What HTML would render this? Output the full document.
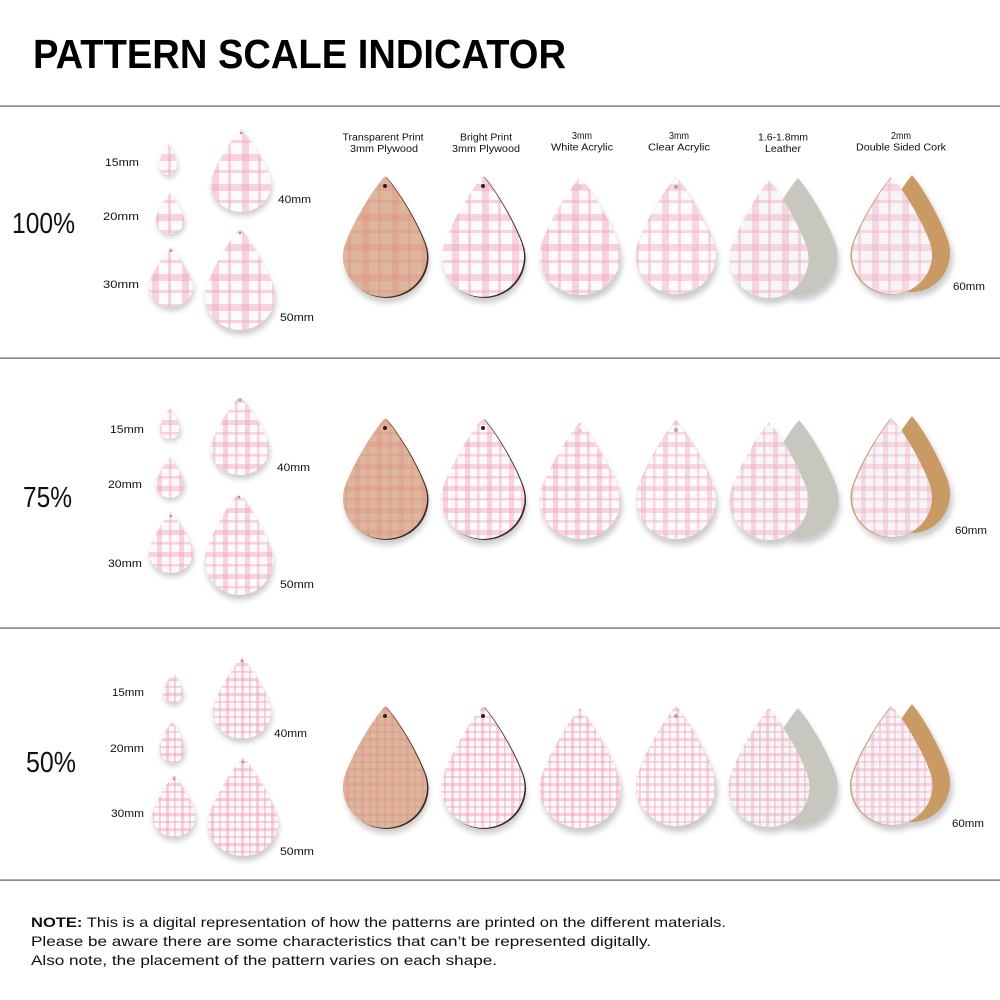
<!DOCTYPE html>
<html><head><meta charset="utf-8"><style>
html,body{margin:0;padding:0;background:#fff;}
svg{display:block;}
text{font-family:"Liberation Sans",sans-serif;fill:#111;}
</style></head><body>
<svg width="1000" height="1000" viewBox="0 0 1000 1000" xmlns="http://www.w3.org/2000/svg" xmlns:xlink="http://www.w3.org/1999/xlink">
<defs>
<path id="d" d="M0,0C0.3,0.35 0.735,1.094 0.94,1.658A1,1 0 1 1 -0.94,1.658C-0.735,1.094 -0.3,0.35 0,0Z"/>
<filter id="bl" x="-30%" y="-30%" width="160%" height="160%"><feGaussianBlur stdDeviation="3"/></filter>
<pattern id="p1" width="30" height="30" patternUnits="userSpaceOnUse" x="2" y="4">
<rect width="30" height="30" fill="#fdfafb"/>
<rect x="0" width="7" height="30" fill="#f2a6bd" opacity=".48"/>
<rect x="16" width="3" height="30" fill="#f2a6bd" opacity=".48"/>
<rect y="0" width="30" height="7" fill="#f2a6bd" opacity=".48"/>
<rect y="16" width="30" height="3" fill="#f2a6bd" opacity=".48"/>
</pattern>
<pattern id="p2" width="22" height="22" patternUnits="userSpaceOnUse" x="3" y="2">
<rect width="22" height="22" fill="#fdfafb"/>
<rect x="0" width="5" height="22" fill="#f2a6bd" opacity=".48"/>
<rect x="12" width="2.5" height="22" fill="#f2a6bd" opacity=".48"/>
<rect y="0" width="22" height="5" fill="#f2a6bd" opacity=".48"/>
<rect y="12" width="22" height="2.5" fill="#f2a6bd" opacity=".48"/>
</pattern>
<pattern id="p3" width="15" height="15" patternUnits="userSpaceOnUse" x="1" y="3">
<rect width="15" height="15" fill="#fdfafb"/>
<rect x="0" width="3.2" height="15" fill="#f2a6bd" opacity=".52"/>
<rect x="8" width="1.8" height="15" fill="#f2a6bd" opacity=".52"/>
<rect y="0" width="15" height="3.2" fill="#f2a6bd" opacity=".52"/>
<rect y="8" width="15" height="1.8" fill="#f2a6bd" opacity=".52"/>
</pattern>
<pattern id="w1" width="30" height="30" patternUnits="userSpaceOnUse" x="2" y="4">
<rect width="30" height="30" fill="#dcb79c"/>
<rect x="0" width="7" height="30" fill="#e0928a" opacity=".4"/>
<rect x="16" width="3" height="30" fill="#e0928a" opacity=".4"/>
<rect y="0" width="30" height="7" fill="#e0928a" opacity=".4"/>
<rect y="16" width="30" height="3" fill="#e0928a" opacity=".4"/>
</pattern>
<pattern id="w2" width="22" height="22" patternUnits="userSpaceOnUse" x="3" y="2">
<rect width="22" height="22" fill="#dcb79c"/>
<rect x="0" width="5" height="22" fill="#e0928a" opacity=".4"/>
<rect x="12" width="2.5" height="22" fill="#e0928a" opacity=".4"/>
<rect y="0" width="22" height="5" fill="#e0928a" opacity=".4"/>
<rect y="12" width="22" height="2.5" fill="#e0928a" opacity=".4"/>
</pattern>
<pattern id="w3" width="15" height="15" patternUnits="userSpaceOnUse" x="1" y="3">
<rect width="15" height="15" fill="#dcb79c"/>
<rect x="0" width="3.2" height="15" fill="#e0928a" opacity=".42"/>
<rect x="8" width="1.8" height="15" fill="#e0928a" opacity=".42"/>
<rect y="0" width="15" height="3.2" fill="#e0928a" opacity=".42"/>
<rect y="8" width="15" height="1.8" fill="#e0928a" opacity=".42"/>
</pattern>

<clipPath id="a1"><use xlink:href="#d" transform="translate(168,143) scale(9,10.667)"/></clipPath>
<clipPath id="a2"><use xlink:href="#d" transform="translate(170,193) scale(14,13.667)"/></clipPath>
<clipPath id="a3"><use xlink:href="#d" transform="translate(171,247) scale(22,20)"/></clipPath>
<clipPath id="a4"><use xlink:href="#d" transform="translate(241,129) scale(30,27.667)"/></clipPath>
<clipPath id="a5"><use xlink:href="#d" transform="translate(240,228) scale(35,34)"/></clipPath>
<clipPath id="a6"><use xlink:href="#d" transform="translate(385,176) scale(42,40.333)"/></clipPath>
<clipPath id="a7"><use xlink:href="#d" transform="translate(483,176) scale(41,40.333)"/></clipPath>
<clipPath id="a8"><use xlink:href="#d" transform="translate(580,177) scale(40.5,39.333)"/></clipPath>
<clipPath id="a9"><use xlink:href="#d" transform="translate(676,177) scale(40,39)"/></clipPath>
<clipPath id="a10"><use xlink:href="#d" transform="translate(769,180) scale(39.5,39.333)"/></clipPath>
<clipPath id="a11"><use xlink:href="#d" transform="translate(892,177) scale(40,39)"/></clipPath>
<clipPath id="b1"><use xlink:href="#d" transform="translate(170,408) scale(10,10.333)"/></clipPath>
<clipPath id="b2"><use xlink:href="#d" transform="translate(170,457) scale(14,13.667)"/></clipPath>
<clipPath id="b3"><use xlink:href="#d" transform="translate(171,512) scale(22,20.333)"/></clipPath>
<clipPath id="b4"><use xlink:href="#d" transform="translate(240,396) scale(29,26.333)"/></clipPath>
<clipPath id="b5"><use xlink:href="#d" transform="translate(239,492) scale(34,34.333)"/></clipPath>
<clipPath id="b6"><use xlink:href="#d" transform="translate(385,418) scale(42,40.333)"/></clipPath>
<clipPath id="b7"><use xlink:href="#d" transform="translate(483,418) scale(41.5,40.333)"/></clipPath>
<clipPath id="b8"><use xlink:href="#d" transform="translate(580,422) scale(40.5,39)"/></clipPath>
<clipPath id="b9"><use xlink:href="#d" transform="translate(676,420) scale(40,39.667)"/></clipPath>
<clipPath id="b10"><use xlink:href="#d" transform="translate(769,422) scale(39.5,39.333)"/></clipPath>
<clipPath id="b11"><use xlink:href="#d" transform="translate(892,418) scale(40,39.667)"/></clipPath>
<clipPath id="c1"><use xlink:href="#d" transform="translate(173,673) scale(10,10)"/></clipPath>
<clipPath id="c2"><use xlink:href="#d" transform="translate(172,721) scale(12.5,14)"/></clipPath>
<clipPath id="c3"><use xlink:href="#d" transform="translate(174,775) scale(21.5,20.667)"/></clipPath>
<clipPath id="c4"><use xlink:href="#d" transform="translate(242,657) scale(29,27.333)"/></clipPath>
<clipPath id="c5"><use xlink:href="#d" transform="translate(243,757) scale(35,33)"/></clipPath>
<clipPath id="c6"><use xlink:href="#d" transform="translate(385,706) scale(42,40.667)"/></clipPath>
<clipPath id="c7"><use xlink:href="#d" transform="translate(483,706) scale(41.5,40.667)"/></clipPath>
<clipPath id="c8"><use xlink:href="#d" transform="translate(580,708) scale(40.5,40)"/></clipPath>
<clipPath id="c9"><use xlink:href="#d" transform="translate(676,706) scale(40,40)"/></clipPath>
<clipPath id="c10"><use xlink:href="#d" transform="translate(769,708) scale(40.5,39.667)"/></clipPath>
<clipPath id="c11"><use xlink:href="#d" transform="translate(892,706) scale(40.5,39.667)"/></clipPath>
</defs>

<rect width="1000" height="1000" fill="#fff"/>

<text x="33" y="68" font-size="41" font-weight="bold" textLength="533" lengthAdjust="spacingAndGlyphs" style="fill:#000">PATTERN SCALE INDICATOR</text>

<rect x="0" y="105.5" width="1000" height="1.2" fill="#5a5a5a"/>
<rect x="0" y="357.5" width="1000" height="1.2" fill="#5a5a5a"/>
<rect x="0" y="627.5" width="1000" height="1.2" fill="#5a5a5a"/>
<rect x="0" y="879.5" width="1000" height="1.2" fill="#5a5a5a"/>

<g font-size="10" text-anchor="middle">
<text x="383" y="140.5" textLength="81" lengthAdjust="spacingAndGlyphs">Transparent Print</text>
<text x="384" y="152" textLength="68" lengthAdjust="spacingAndGlyphs">3mm Plywood</text>
<text x="486" y="140.5" textLength="52" lengthAdjust="spacingAndGlyphs">Bright Print</text>
<text x="486" y="152" textLength="68" lengthAdjust="spacingAndGlyphs">3mm Plywood</text>
<text x="582" y="139" textLength="20" lengthAdjust="spacingAndGlyphs">3mm</text>
<text x="582" y="150.5" textLength="62" lengthAdjust="spacingAndGlyphs">White Acrylic</text>
<text x="679" y="139" textLength="20" lengthAdjust="spacingAndGlyphs">3mm</text>
<text x="679" y="150.5" textLength="62" lengthAdjust="spacingAndGlyphs">Clear Acrylic</text>
<text x="783" y="140.5" textLength="50" lengthAdjust="spacingAndGlyphs">1.6-1.8mm</text>
<text x="783" y="152" textLength="36" lengthAdjust="spacingAndGlyphs">Leather</text>
<text x="901" y="139" textLength="20" lengthAdjust="spacingAndGlyphs">2mm</text>
<text x="901" y="150.5" textLength="90" lengthAdjust="spacingAndGlyphs">Double Sided Cork</text>
</g>

<g style="fill:#222">
<text x="12" y="233" font-size="29" textLength="63" lengthAdjust="spacingAndGlyphs">100%</text>
<text x="23" y="507" font-size="29" textLength="49" lengthAdjust="spacingAndGlyphs">75%</text>
<text x="26" y="772" font-size="29" textLength="50" lengthAdjust="spacingAndGlyphs">50%</text>
</g>

<g font-size="11">
<text x="105" y="166" textLength="34" lengthAdjust="spacingAndGlyphs">15mm</text>
<text x="103" y="220" textLength="36" lengthAdjust="spacingAndGlyphs">20mm</text>
<text x="103" y="288" textLength="36" lengthAdjust="spacingAndGlyphs">30mm</text>
<text x="278" y="203" textLength="33" lengthAdjust="spacingAndGlyphs">40mm</text>
<text x="280" y="321" textLength="34" lengthAdjust="spacingAndGlyphs">50mm</text>
<text x="953" y="290" textLength="32" lengthAdjust="spacingAndGlyphs">60mm</text>
<text x="110" y="433" textLength="34" lengthAdjust="spacingAndGlyphs">15mm</text>
<text x="108" y="488" textLength="34" lengthAdjust="spacingAndGlyphs">20mm</text>
<text x="108" y="567" textLength="34" lengthAdjust="spacingAndGlyphs">30mm</text>
<text x="277" y="471" textLength="33" lengthAdjust="spacingAndGlyphs">40mm</text>
<text x="280" y="588" textLength="34" lengthAdjust="spacingAndGlyphs">50mm</text>
<text x="955" y="534" textLength="32" lengthAdjust="spacingAndGlyphs">60mm</text>
<text x="112" y="696" textLength="32" lengthAdjust="spacingAndGlyphs">15mm</text>
<text x="110" y="752" textLength="34" lengthAdjust="spacingAndGlyphs">20mm</text>
<text x="111" y="817" textLength="33" lengthAdjust="spacingAndGlyphs">30mm</text>
<text x="274" y="737" textLength="33" lengthAdjust="spacingAndGlyphs">40mm</text>
<text x="280" y="855" textLength="34" lengthAdjust="spacingAndGlyphs">50mm</text>
<text x="952" y="827" textLength="32" lengthAdjust="spacingAndGlyphs">60mm</text>
</g>

<g filter="url(#bl)" fill="#000" opacity=".2">
<use xlink:href="#d" transform="translate(169,146) scale(9,10.667)"/>
<use xlink:href="#d" transform="translate(171,196) scale(14,13.667)"/>
<use xlink:href="#d" transform="translate(172,251) scale(22,20)"/>
<use xlink:href="#d" transform="translate(242,133) scale(30,27.667)"/>
<use xlink:href="#d" transform="translate(241,233) scale(35,34)"/>
<use xlink:href="#d" transform="translate(387,182) scale(42,40.333)"/>
<use xlink:href="#d" transform="translate(485,182) scale(41,40.333)"/>
<use xlink:href="#d" transform="translate(582,183) scale(40.5,39.333)"/>
<use xlink:href="#d" transform="translate(678,183) scale(40,39)"/>
<use xlink:href="#d" transform="translate(800,184) scale(39.5,39)"/>
<use xlink:href="#d" transform="translate(771,186) scale(39.5,39.333)"/>
<use xlink:href="#d" transform="translate(915,180) scale(38,39)"/>
<use xlink:href="#d" transform="translate(894,183) scale(40,39)"/>
<use xlink:href="#d" transform="translate(171,411) scale(10,10.333)"/>
<use xlink:href="#d" transform="translate(171,460) scale(14,13.667)"/>
<use xlink:href="#d" transform="translate(172,516) scale(22,20.333)"/>
<use xlink:href="#d" transform="translate(241,400) scale(29,26.333)"/>
<use xlink:href="#d" transform="translate(240,497) scale(34,34.333)"/>
<use xlink:href="#d" transform="translate(387,424) scale(42,40.333)"/>
<use xlink:href="#d" transform="translate(485,424) scale(41.5,40.333)"/>
<use xlink:href="#d" transform="translate(582,428) scale(40.5,39)"/>
<use xlink:href="#d" transform="translate(678,426) scale(40,39.667)"/>
<use xlink:href="#d" transform="translate(801,426) scale(39.5,39.333)"/>
<use xlink:href="#d" transform="translate(771,428) scale(39.5,39.333)"/>
<use xlink:href="#d" transform="translate(915,421) scale(38,39)"/>
<use xlink:href="#d" transform="translate(894,424) scale(40,39.667)"/>
<use xlink:href="#d" transform="translate(174,676) scale(10,10)"/>
<use xlink:href="#d" transform="translate(173,724) scale(12.5,14)"/>
<use xlink:href="#d" transform="translate(175,779) scale(21.5,20.667)"/>
<use xlink:href="#d" transform="translate(243,661) scale(29,27.333)"/>
<use xlink:href="#d" transform="translate(244,762) scale(35,33)"/>
<use xlink:href="#d" transform="translate(387,712) scale(42,40.667)"/>
<use xlink:href="#d" transform="translate(485,712) scale(41.5,40.667)"/>
<use xlink:href="#d" transform="translate(582,714) scale(40.5,40)"/>
<use xlink:href="#d" transform="translate(678,712) scale(40,40)"/>
<use xlink:href="#d" transform="translate(800,714) scale(39.5,39)"/>
<use xlink:href="#d" transform="translate(771,714) scale(40.5,39.667)"/>
<use xlink:href="#d" transform="translate(915,709) scale(38,39.333)"/>
<use xlink:href="#d" transform="translate(894,712) scale(40.5,39.667)"/>
</g>

<!-- ROW 1 -->
<rect x="159" y="143" width="18" height="32" fill="url(#p1)" clip-path="url(#a1)"/>
<rect x="156" y="193" width="28" height="41" fill="url(#p1)" clip-path="url(#a2)"/>
<rect x="149" y="247" width="44" height="60" fill="url(#p1)" clip-path="url(#a3)"/>
<rect x="211" y="129" width="60" height="83" fill="url(#p1)" clip-path="url(#a4)"/>
<rect x="205" y="228" width="70" height="102" fill="url(#p1)" clip-path="url(#a5)"/>
<circle cx="241" cy="133" r="1.3" fill="#999"/>
<circle cx="240" cy="233" r="1.3" fill="#999"/>
<circle cx="171" cy="251" r="1.2" fill="#999"/>
<use xlink:href="#d" transform="translate(386.5,177) scale(42,40.333)" fill="#3a2a22"/>
<rect x="343" y="176" width="84" height="121" fill="url(#w1)" clip-path="url(#a6)"/>
<circle cx="385" cy="186" r="2" fill="#2a2020"/>
<use xlink:href="#d" transform="translate(484.5,177) scale(41,40.333)" fill="#3a2a22"/>
<rect x="442" y="176" width="82" height="121" fill="url(#p1)" clip-path="url(#a7)"/>
<circle cx="483" cy="186" r="2" fill="#2a2020"/>
<rect x="539" y="177" width="82" height="118" fill="url(#p1)" clip-path="url(#a8)"/>
<circle cx="580" cy="187" r="2" fill="#d0cccc"/>
<use xlink:href="#d" transform="translate(676,177) scale(40,39)" fill="#bdbdbd"/>
<use xlink:href="#d" transform="translate(676,179) scale(38.8,38.3)" fill="#fff"/>
<rect x="636" y="177" width="80" height="117" fill="url(#p1)" clip-path="url(#a9)" opacity=".9"/>
<circle cx="676" cy="187" r="2" fill="#aaa"/>
<use xlink:href="#d" transform="translate(798,178) scale(39.5,39)" fill="#c7c6bf"/>
<rect x="729" y="180" width="80" height="118" fill="url(#p1)" clip-path="url(#a10)"/>
<rect x="729" y="180" width="80" height="118" fill="#e2e2e2" opacity=".18" clip-path="url(#a10)"/>
<use xlink:href="#d" transform="translate(912,175) scale(38,39)" fill="#c99a64"/>
<use xlink:href="#d" transform="translate(891,177) scale(40.5,39.2)" fill="#caa074"/>
<rect x="852" y="177" width="81" height="117" fill="url(#p1)" clip-path="url(#a11)"/>
<rect x="852" y="177" width="81" height="117" fill="#e8e8ec" opacity=".25" clip-path="url(#a11)"/>

<!-- ROW 2 -->
<rect x="160" y="408" width="20" height="31" fill="url(#p2)" clip-path="url(#b1)"/>
<rect x="156" y="457" width="28" height="41" fill="url(#p2)" clip-path="url(#b2)"/>
<rect x="149" y="512" width="44" height="61" fill="url(#p2)" clip-path="url(#b3)"/>
<rect x="211" y="396" width="58" height="79" fill="url(#p2)" clip-path="url(#b4)"/>
<rect x="205" y="492" width="68" height="103" fill="url(#p2)" clip-path="url(#b5)"/>
<circle cx="240" cy="400" r="1.3" fill="#999"/>
<circle cx="239" cy="497" r="1.3" fill="#999"/>
<circle cx="171" cy="516" r="1.2" fill="#999"/>
<use xlink:href="#d" transform="translate(386.5,419) scale(42,40.333)" fill="#3a2a22"/>
<rect x="343" y="418" width="84" height="121" fill="url(#w2)" clip-path="url(#b6)"/>
<circle cx="385" cy="428" r="2" fill="#2a2020"/>
<use xlink:href="#d" transform="translate(484.5,419) scale(41.5,40.333)" fill="#3a2a22"/>
<rect x="441" y="418" width="84" height="121" fill="url(#p2)" clip-path="url(#b7)"/>
<circle cx="483" cy="428" r="2" fill="#2a2020"/>
<rect x="539" y="422" width="82" height="117" fill="url(#p2)" clip-path="url(#b8)"/>
<circle cx="580" cy="431" r="2" fill="#d0cccc"/>
<use xlink:href="#d" transform="translate(676,420) scale(40,39.667)" fill="#bdbdbd"/>
<use xlink:href="#d" transform="translate(676,422) scale(38.8,39)" fill="#fff"/>
<rect x="636" y="420" width="80" height="119" fill="url(#p2)" clip-path="url(#b9)" opacity=".9"/>
<circle cx="676" cy="430" r="2" fill="#aaa"/>
<use xlink:href="#d" transform="translate(799,420) scale(39.5,39.333)" fill="#c7c6bf"/>
<rect x="729" y="422" width="80" height="118" fill="url(#p2)" clip-path="url(#b10)"/>
<rect x="729" y="422" width="80" height="118" fill="#e2e2e2" opacity=".18" clip-path="url(#b10)"/>
<use xlink:href="#d" transform="translate(912,416) scale(38,39)" fill="#c99a64"/>
<use xlink:href="#d" transform="translate(891,418) scale(40.5,39.8)" fill="#caa074"/>
<rect x="852" y="418" width="81" height="119" fill="url(#p2)" clip-path="url(#b11)"/>
<rect x="852" y="418" width="81" height="119" fill="#e8e8ec" opacity=".25" clip-path="url(#b11)"/>

<!-- ROW 3 -->
<rect x="163" y="673" width="20" height="30" fill="url(#p3)" clip-path="url(#c1)"/>
<rect x="159" y="721" width="26" height="42" fill="url(#p3)" clip-path="url(#c2)"/>
<rect x="152" y="775" width="44" height="62" fill="url(#p3)" clip-path="url(#c3)"/>
<rect x="213" y="657" width="58" height="82" fill="url(#p3)" clip-path="url(#c4)"/>
<rect x="208" y="757" width="70" height="99" fill="url(#p3)" clip-path="url(#c5)"/>
<circle cx="242" cy="661" r="1.3" fill="#999"/>
<circle cx="243" cy="762" r="1.3" fill="#999"/>
<circle cx="174" cy="779" r="1.2" fill="#999"/>
<use xlink:href="#d" transform="translate(386.5,707) scale(42,40.667)" fill="#3a2a22"/>
<rect x="343" y="706" width="84" height="122" fill="url(#w3)" clip-path="url(#c6)"/>
<circle cx="385" cy="716" r="2" fill="#2a2020"/>
<use xlink:href="#d" transform="translate(484.5,707) scale(41.5,40.667)" fill="#3a2a22"/>
<rect x="441" y="706" width="84" height="122" fill="url(#p3)" clip-path="url(#c7)"/>
<circle cx="483" cy="716" r="2" fill="#2a2020"/>
<rect x="539" y="708" width="82" height="120" fill="url(#p3)" clip-path="url(#c8)"/>
<circle cx="580" cy="717" r="2" fill="#d0cccc"/>
<use xlink:href="#d" transform="translate(676,706) scale(40,40)" fill="#bdbdbd"/>
<use xlink:href="#d" transform="translate(676,708) scale(38.8,39.3)" fill="#fff"/>
<rect x="636" y="706" width="80" height="120" fill="url(#p3)" clip-path="url(#c9)" opacity=".9"/>
<circle cx="676" cy="716" r="2" fill="#aaa"/>
<use xlink:href="#d" transform="translate(798,708) scale(39.5,39)" fill="#c7c6bf"/>
<rect x="728" y="708" width="82" height="119" fill="url(#p3)" clip-path="url(#c10)"/>
<rect x="728" y="708" width="82" height="119" fill="#e2e2e2" opacity=".18" clip-path="url(#c10)"/>
<use xlink:href="#d" transform="translate(912,704) scale(38,39.333)" fill="#c99a64"/>
<use xlink:href="#d" transform="translate(891,706) scale(41,39.8)" fill="#caa074"/>
<rect x="851" y="706" width="82" height="119" fill="url(#p3)" clip-path="url(#c11)"/>
<rect x="851" y="706" width="82" height="119" fill="#e8e8ec" opacity=".25" clip-path="url(#c11)"/>

<g font-size="14">
<text x="31" y="927" textLength="695" lengthAdjust="spacingAndGlyphs"><tspan font-weight="bold">NOTE:</tspan> This is a digital representation of how the patterns are printed on the different materials.</text>
<text x="31" y="946" textLength="620" lengthAdjust="spacingAndGlyphs">Please be aware there are some characteristics that can’t be represented digitally.</text>
<text x="31" y="965" textLength="466" lengthAdjust="spacingAndGlyphs">Also note, the placement of the pattern varies on each shape.</text>
</g>
</svg>
</body></html>
